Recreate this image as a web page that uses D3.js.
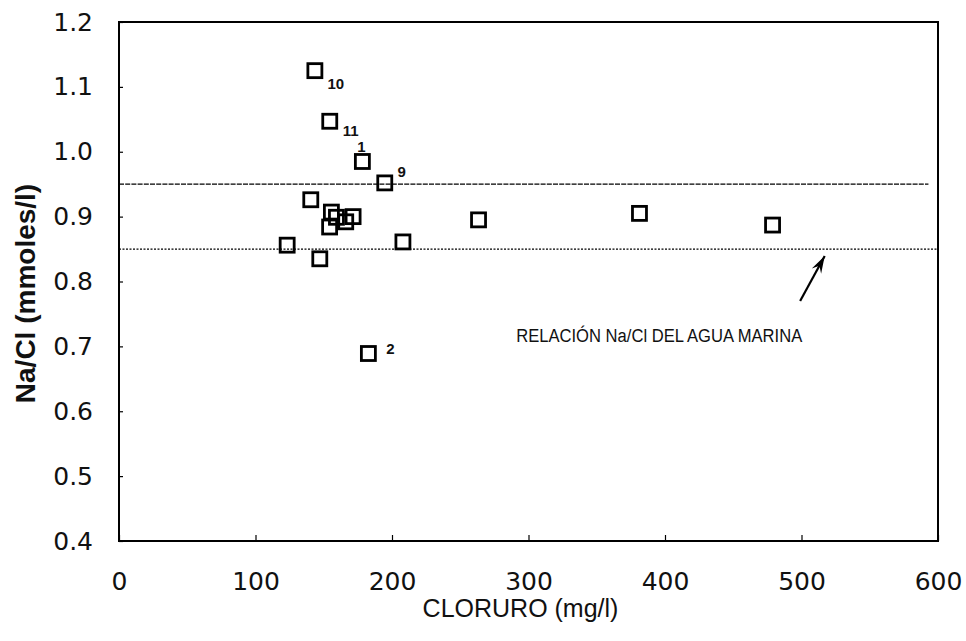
<!DOCTYPE html>
<html>
<head>
<meta charset="utf-8">
<script src="https://cdn.jsdelivr.net/npm/d3@7"></script>
<style>
  body { margin: 0; background: #fff; }
  svg { display: block; }
</style>
</head>
<body>
<svg id="NaClChart"></svg>
<script>
// Chloride (mg/l) and Na/Cl molar ratio of each sample
const cloruro = [143.5, 154.4, 178.3, 194.7, 140.5, 155.6, 159.3, 166.1, 171.5, 154.3, 123.2, 147.1, 208.0, 263.4, 381.3, 478.8, 182.7];
const naCl    = [1.125, 1.047, 0.985, 0.952, 0.926, 0.907, 0.899, 0.892, 0.900, 0.884, 0.856, 0.835, 0.861, 0.895, 0.905, 0.887, 0.689];
const sampleLabels = ["10", "11", "1", "9", "", "", "", "", "", "", "", "", "", "", "", "", "2"];

// Seawater reference band
const seaRatio = [0.95, 0.85];
const seaNote = "RELACIÓN Na/Cl DEL AGUA MARINA";

const xTicks = [0, 100, 200, 300, 400, 500, 600];
const yTicks = [0.4, 0.5, 0.6, 0.7, 0.8, 0.9, 1.0, 1.1, 1.2];

const margin = { top: 22, right: 28, bottom: 100, left: 119 },
  W = 966, H = 641,
  width = W - margin.left - margin.right,
  height = H - margin.top - margin.bottom;

const svg = d3.select("#NaClChart").attr("width", W).attr("height", H);
const chart = svg.append("g").attr("transform", `translate(${margin.left},${margin.top})`);

const x = d3.scaleLinear().domain([0, 600]).range([0, width]);
const y = d3.scaleLinear().domain([0.4, 1.2]).range([height, 0]);

const tickFont = "'DejaVu Sans', sans-serif";

// X axis (ticks point inward)
const xAxis = chart.append("g")
  .attr("transform", `translate(0,${height})`)
  .call(d3.axisBottom(x).tickValues(xTicks).tickFormat(d3.format("d")).tickSizeInner(-6).tickSizeOuter(0).tickPadding(31));
xAxis.select(".domain").remove();
xAxis.selectAll("line").attr("stroke", "#000").attr("stroke-width", 1.2);
xAxis.selectAll("text").style("font-family", tickFont).style("font-size", "25px").attr("fill", "#111");

// Y axis
const yAxis = chart.append("g")
  .call(d3.axisLeft(y).tickValues(yTicks).tickFormat(d3.format(".1f")).tickSizeInner(-4).tickSizeOuter(0).tickPadding(26));
yAxis.select(".domain").remove();
yAxis.selectAll("line").attr("stroke", "#000").attr("stroke-width", 1.2);
yAxis.selectAll("text").style("font-family", tickFont).style("font-size", "25px").attr("fill", "#111");

// Plot frame
chart.append("rect")
  .attr("x", 0).attr("y", 0)
  .attr("width", width).attr("height", height)
  .attr("fill", "none").attr("stroke", "#000").attr("stroke-width", 2);

// Seawater ratio lines
chart.append("line")
  .attr("x1", 0).attr("x2", x(593))
  .attr("y1", y(seaRatio[0])).attr("y2", y(seaRatio[0]))
  .attr("stroke", "#000").attr("stroke-width", 1.3).attr("stroke-dasharray", "5,1.2");
chart.append("line")
  .attr("x1", 0).attr("x2", width)
  .attr("y1", y(seaRatio[1])).attr("y2", y(seaRatio[1]))
  .attr("stroke", "#000").attr("stroke-width", 1.2).attr("stroke-dasharray", "2,1.5");

// Samples
const pts = cloruro.map((c, i) => ({ c, r: naCl[i], label: sampleLabels[i] }));
const s = 14;
chart.selectAll(".pt")
  .data(pts)
  .enter()
  .append("rect")
  .attr("class", "pt")
  .attr("x", d => x(d.c) - s / 2)
  .attr("y", d => y(d.r) - s / 2)
  .attr("width", s).attr("height", s)
  .attr("fill", "none").attr("stroke", "#000").attr("stroke-width", 2.8);

// Sample numbers next to their squares
const labelOffset = { "10": [21, 13], "11": [21, 9], "1": [-1, -15], "9": [17, -11], "2": [22, -5] };
chart.selectAll(".ptLabel")
  .data(pts.filter(d => d.label))
  .enter()
  .append("text")
  .attr("class", "ptLabel")
  .attr("x", d => x(d.c) + labelOffset[d.label][0])
  .attr("y", d => y(d.r) + labelOffset[d.label][1])
  .attr("dy", "0.35em")
  .attr("text-anchor", "middle")
  .style("font-family", "'Liberation Sans', Arial, sans-serif")
  .style("font-size", "15px")
  .style("font-weight", "bold")
  .attr("fill", "#111")
  .text(d => d.label);

// Note with arrow pointing at the lower seawater line
const tip = [x(517), y(seaRatio[1]) + 7];
const tail = [x(499), y(0.77)];
chart.append("line")
  .attr("x1", tail[0]).attr("y1", tail[1])
  .attr("x2", tip[0]).attr("y2", tip[1])
  .attr("stroke", "#000").attr("stroke-width", 2.2);
const ang = Math.atan2(tip[1] - tail[1], tip[0] - tail[0]);
const head = [
  tip,
  [tip[0] - 18 * Math.cos(ang - 0.3), tip[1] - 18 * Math.sin(ang - 0.3)],
  [tip[0] - 11 * Math.cos(ang), tip[1] - 11 * Math.sin(ang)],
  [tip[0] - 18 * Math.cos(ang + 0.3), tip[1] - 18 * Math.sin(ang + 0.3)]
];
chart.append("path")
  .attr("d", d3.line()(head) + "Z")
  .attr("fill", "#000");

chart.append("text")
  .attr("x", x(291)).attr("y", y(0.7165))
  .attr("dy", "0.35em")
  .attr("textLength", 286)
  .attr("lengthAdjust", "spacingAndGlyphs")
  .style("font-family", "'Liberation Sans', Arial, sans-serif")
  .style("font-size", "18px")
  .attr("fill", "#111")
  .text(seaNote);

// Axis titles
svg.append("text")
  .attr("x", margin.left + x(300) - 8)
  .attr("y", 617)
  .attr("text-anchor", "middle")
  .style("font-family", "'Liberation Sans', Arial, sans-serif")
  .style("font-size", "25px")
  .attr("fill", "#111")
  .text("CLORURO (mg/l)");

svg.append("text")
  .attr("transform", `translate(35,${margin.top + y(0.8) + 12}) rotate(-90)`)
  .attr("text-anchor", "middle")
  .style("font-family", "'Liberation Sans', Arial, sans-serif")
  .style("font-size", "28px")
  .style("font-weight", "bold")
  .attr("fill", "#111")
  .text("Na/Cl (mmoles/l)");
</script>
</body>
</html>
